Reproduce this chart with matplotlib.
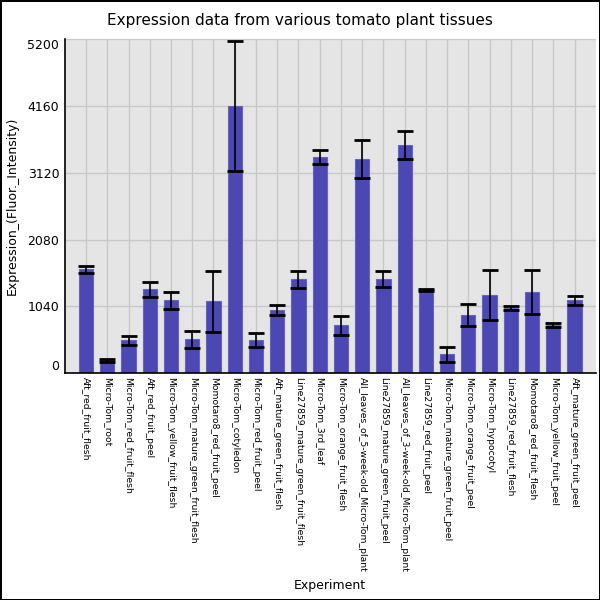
import numpy as np
import matplotlib
matplotlib.use('Agg')
import matplotlib.pyplot as plt

# tissue names, mean expression and error
experiments = [
    'Aft_red_fruit_flesh', 'Micro-Tom_root', 'Micro-Tom_red_fruit_flesh',
    'Aft_red_fruit_peel', 'Micro-Tom_yellow_fruit_flesh',
    'Micro-Tom_mature_green_fruit_flesh', 'Momotaro8_red_fruit_peel',
    'Micro-Tom_cotyledon', 'Micro-Tom_red_fruit_peel',
    'Aft_mature_green_fruit_flesh', 'Line27859_mature_green_fruit_flesh',
    'Micro-Tom_3rd_leaf', 'Micro-Tom_orange_fruit_flesh',
    'All_leaves_of_5-week-old_Micro-Tom_plant',
    'Line27859_mature_green_fruit_peel',
    'All_leaves_of_3-week-old_Micro-Tom_plant', 'Line27859_red_fruit_peel',
    'Micro-Tom_mature_green_fruit_peel', 'Micro-Tom_orange_fruit_peel',
    'Micro-Tom_hypocotyl', 'Line27859_red_fruit_flesh',
    'Momotaro8_red_fruit_flesh', 'Micro-Tom_yellow_fruit_peel',
    'Aft_mature_green_fruit_peel',
]
expression = [1617, 200, 510, 1305, 1134, 525, 1118, 4160, 510, 978, 1461,
              3364, 744, 3333, 1461, 3552, 1300, 291, 900, 1212, 1014, 1258,
              744, 1134]
errors = [58, 20, 73, 120, 130, 130, 476, 1014, 110, 78, 128, 110, 148, 300,
          127, 213, 15, 110, 172, 388, 35, 344, 31, 68]
yticks = [0, 1040, 2080, 3120, 4160, 5200]

fig = plt.figure(figsize=(6, 6), dpi=100, edgecolor='black', linewidth=2)
ax = fig.add_axes([0.108, 0.378, 0.885, 0.557])
ax.set_facecolor('#e5e5e5')

x = np.arange(len(experiments))
ax.bar(x, expression, width=0.67, color='#4b47b3', edgecolor='#6763c0',
       linewidth=0.8, zorder=2)
ax.errorbar(x, expression, yerr=errors, fmt='none', ecolor='black',
            elinewidth=1.2, capsize=5.5, capthick=2, zorder=3)

ax.set_xlim(-1, len(experiments))
ax.set_ylim(0, 5200)
ax.set_xticks(x)
ax.set_xticklabels(experiments, rotation=-90, fontsize=6.7)
ax.set_yticks(yticks)
ax.set_yticklabels([str(v) for v in yticks], fontsize=9)
ax.tick_params(length=0, pad=4)
ax.tick_params(axis='x', pad=3)
labels = ax.get_yticklabels()
labels[0].set_va('bottom')
labels[-1].set_va('top')

ax.grid(True, color='#c8c8c8', linewidth=1, zorder=0)
ax.set_axisbelow(True)
for s in ['top', 'right']:
    ax.spines[s].set_visible(False)
ax.spines['left'].set_linewidth(1.2)
ax.spines['bottom'].set_linewidth(1.2)

fig.text(0.5, 1 - 20 / 600, 'Expression data from various tomato plant tissues',
         fontsize=11, ha='center', va='center')
ax.set_ylabel('Expression_(Fluor._Intensity)', fontsize=9, labelpad=6)
fig.text(0.55, 1 - 585 / 600, 'Experiment', fontsize=9, ha='center', va='center')

fig.savefig('out.png', dpi=100)
